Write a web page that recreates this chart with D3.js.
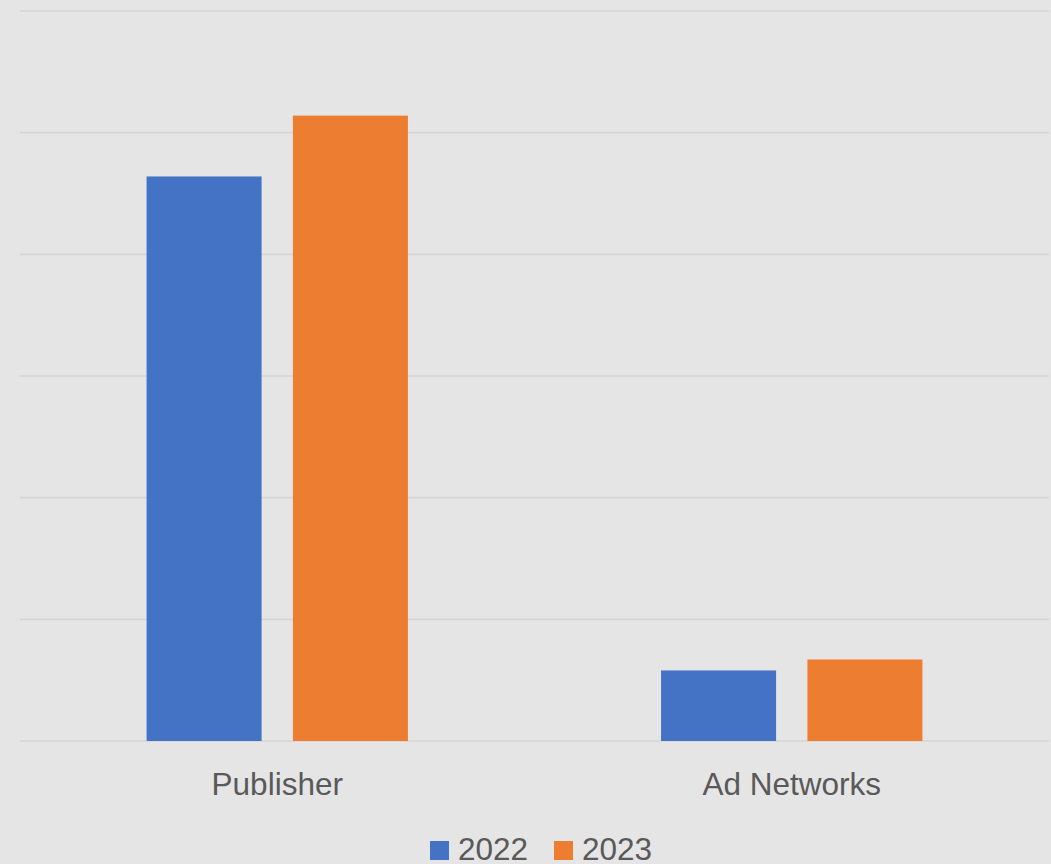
<!DOCTYPE html>
<html>
<head>
<meta charset="utf-8">
<script src="https://cdn.jsdelivr.net/npm/d3@7"></script>
<style>
  html, body { margin: 0; padding: 0; background: #e5e5e5; }
  svg { display: block; }
</style>
</head>
<body>
<svg id="chart" width="1051" height="864"></svg>
<script>
// Chart data
const categories = ["Publisher", "Ad Networks"];
const seriesNames = ["2022", "2023"];
const values2022 = [46.4, 5.8];
const values2023 = [51.4, 6.7];
const yTicks = [0, 10, 20, 30, 40, 50, 60];

const seriesColors = ["#4472c4", "#ed7d31"];
const seriesValues = [values2022, values2023];

const W = 1051, H = 864;
const margin = { top: 11, right: 2, bottom: 123, left: 20 };

const svg = d3.select("#chart");
svg.append("rect").attr("width", W).attr("height", H).attr("fill", "#e5e5e5");

const x0 = d3.scaleBand()
  .domain(categories)
  .range([margin.left, W - margin.right])
  .paddingInner(0)
  .paddingOuter(0);

const x1 = d3.scaleBand()
  .domain(seriesNames)
  .range([0, x0.bandwidth()])
  .paddingInner(0.214)
  .paddingOuter(0.865);

const y = d3.scaleLinear()
  .domain([0, 60])
  .range([H - margin.bottom, margin.top]);

// Horizontal gridlines
svg.append("g")
  .selectAll("line")
  .data(yTicks)
  .join("line")
  .attr("x1", margin.left)
  .attr("x2", W - margin.right)
  .attr("y1", d => y(d))
  .attr("y2", d => y(d))
  .attr("stroke", "#d5d5d5")
  .attr("stroke-width", 1.6);

// Bars
const rows = categories.map((c, i) => ({
  category: c,
  items: seriesNames.map((s, j) => ({ series: s, value: seriesValues[j][i], color: seriesColors[j] }))
}));

svg.append("g")
  .selectAll("g")
  .data(rows)
  .join("g")
  .attr("transform", d => `translate(${x0(d.category)},0)`)
  .selectAll("rect")
  .data(d => d.items)
  .join("rect")
  .attr("x", d => x1(d.series))
  .attr("width", x1.bandwidth())
  .attr("y", d => y(d.value))
  .attr("height", d => y(0) - y(d.value))
  .attr("fill", d => d.color);

// Category axis labels
const xAxis = d3.axisBottom(x0).tickSize(0).tickPadding(0);
const gx = svg.append("g")
  .attr("transform", `translate(0,${y(0)})`)
  .call(xAxis);
gx.select(".domain").remove();
gx.selectAll("text")
  .attr("dy", null)
  .attr("y", 54)
  .attr("fill", "#595959")
  .style("font-family", "'Liberation Sans', Arial, sans-serif")
  .style("font-size", "31.5px");

// Legend
const legendItems = [
  { name: seriesNames[0], color: seriesColors[0], x: 430 },
  { name: seriesNames[1], color: seriesColors[1], x: 554 }
];
const lg = svg.append("g");
const li = lg.selectAll("g").data(legendItems).join("g")
  .attr("transform", d => `translate(${d.x},841)`);
li.append("rect").attr("width", 19).attr("height", 19).attr("fill", d => d.color);
li.append("text")
  .attr("x", 28)
  .attr("y", 19)
  .attr("fill", "#595959")
  .style("font-family", "'Liberation Sans', Arial, sans-serif")
  .style("font-size", "31.5px")
  .text(d => d.name);
</script>
</body>
</html>
